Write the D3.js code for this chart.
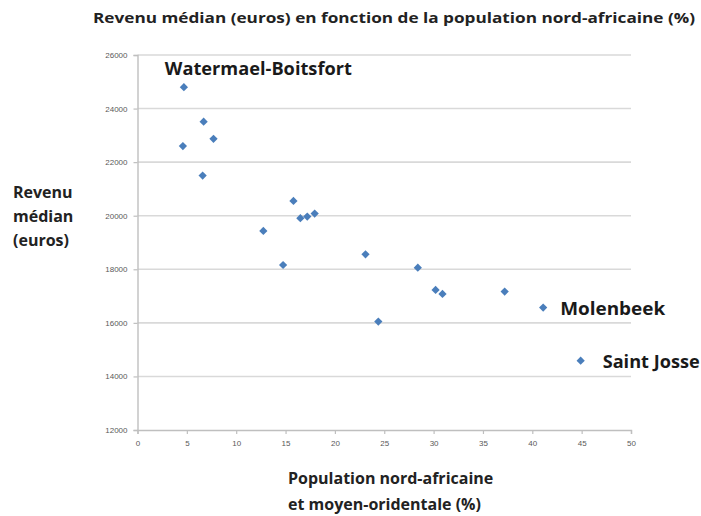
<!DOCTYPE html>
<html>
<head>
<meta charset="utf-8">
<script src="https://cdn.jsdelivr.net/npm/d3@7"></script>
<style>
  body { margin: 0; background: #fff; }
  svg { display: block; font-family: "Open Sans", "DejaVu Sans", sans-serif; }
</style>
</head>
<body>
<div id="chart"></div>
<script>
// data
const popShare = [4.7, 4.6, 6.7, 7.7, 6.6, 12.75, 15.8, 16.5, 17.2, 17.95, 14.75, 23.1, 24.4, 28.4, 30.2, 30.9, 37.2, 41.1, 44.9];
const medianIncome = [24800, 22600, 23510, 22870, 21500, 19430, 20550, 19910, 19970, 20080, 18160, 18560, 16050, 18060, 17230, 17080, 17170, 16570, 14590];
const pointNames = ["Watermael-Boitsfort", "", "", "", "", "", "", "", "", "", "", "", "", "", "", "", "", "Molenbeek", "Saint Josse"];
const xTicks = [0, 5, 10, 15, 20, 25, 30, 35, 40, 45, 50];
const yTicks = [12000, 14000, 16000, 18000, 20000, 22000, 24000, 26000];

const width = 701;
const height = 516;
const margin = { left: 137.5, right: 70, top: 55, bottom: 86 };

const svg = d3.select("#chart").append("svg")
  .attr("width", width)
  .attr("height", height);

const x = d3.scaleLinear().domain([0, 50]).range([margin.left, width - margin.right]);
const y = d3.scaleLinear().domain([12000, 26000]).range([height - margin.bottom, margin.top]);

// gridlines
svg.append("g")
  .selectAll("line")
  .data(yTicks.slice(1))
  .join("line")
  .attr("x1", x(0))
  .attr("x2", x(50))
  .attr("y1", d => y(d))
  .attr("y2", d => y(d))
  .attr("stroke", "#d9d9d9")
  .attr("stroke-width", 1.6);

// axes
const xAxis = svg.append("g")
  .attr("transform", `translate(0,${y(12000)})`)
  .call(d3.axisBottom(x).tickValues(xTicks).tickSize(4).tickPadding(6));

const yAxis = svg.append("g")
  .attr("transform", `translate(${x(0)},0)`)
  .call(d3.axisLeft(y).tickValues(yTicks).tickSize(4).tickPadding(6).tickFormat(d3.format("d")));

[xAxis, yAxis].forEach(a => {
  a.select(".domain").attr("stroke", "#bfbfbf").attr("stroke-width", 1.4);
  a.selectAll(".tick line").attr("stroke", "#bfbfbf").attr("stroke-width", 1.2);
  a.selectAll(".tick text")
    .attr("fill", "#595959")
    .attr("font-size", 8)
    .attr("font-family", "Liberation Sans, Arial, sans-serif");
});

// points (Excel-style diamond: a rotated square)
const pts = popShare.map((v, i) => ({ x: v, y: medianIncome[i], name: pointNames[i] }));

svg.append("g")
  .selectAll("path")
  .data(pts)
  .join("path")
  .attr("transform", d => `translate(${x(d.x)},${y(d.y)}) rotate(45)`)
  .attr("d", d3.symbol(d3.symbolSquare, 34))
  .attr("fill", "#4a7ebb");

// labels
const labelPos = {
  "Watermael-Boitsfort": { dx: -19, dy: -18, len: 187 },
  "Molenbeek": { dx: 17, dy: 1, len: 105 },
  "Saint Josse": { dx: 22, dy: 1, len: 97 }
};

svg.append("g")
  .selectAll("text")
  .data(pts.filter(d => d.name))
  .join("text")
  .attr("x", d => x(d.x) + labelPos[d.name].dx)
  .attr("y", d => y(d.y) + labelPos[d.name].dy)
  .attr("dy", "0.35em")
  .attr("font-size", 18)
  .attr("font-weight", "bold")
  .attr("fill", "#1a1a1a")
  .attr("textLength", d => labelPos[d.name].len)
  .attr("lengthAdjust", "spacingAndGlyphs")
  .text(d => d.name);

// title
svg.append("text")
  .attr("x", 93)
  .attr("y", 18)
  .attr("dy", "0.35em")
  .attr("font-size", 14)
  .attr("font-weight", "bold")
  .attr("fill", "#222")
  .attr("textLength", 602)
  .attr("lengthAdjust", "spacingAndGlyphs")
  .text("Revenu médian (euros) en fonction de la population nord-africaine (%)");

// y title
const yTitle = svg.append("text")
  .attr("font-size", 16)
  .attr("font-weight", "bold")
  .attr("fill", "#222");
["Revenu", "médian", "(euros)"].forEach((t, i) => {
  yTitle.append("tspan")
    .attr("x", 13)
    .attr("y", 192 + i * 24)
    .attr("dy", "0.35em")
    .text(t);
});

// x title
["Population nord-africaine", "et moyen-oridentale (%)"].forEach((t, i) => {
  svg.append("text")
    .attr("x", 288)
    .attr("y", 478 + i * 26)
    .attr("dy", "0.35em")
    .attr("font-size", 16)
    .attr("font-weight", "bold")
    .attr("fill", "#222")
    .text(t);
});
</script>
</body>
</html>
